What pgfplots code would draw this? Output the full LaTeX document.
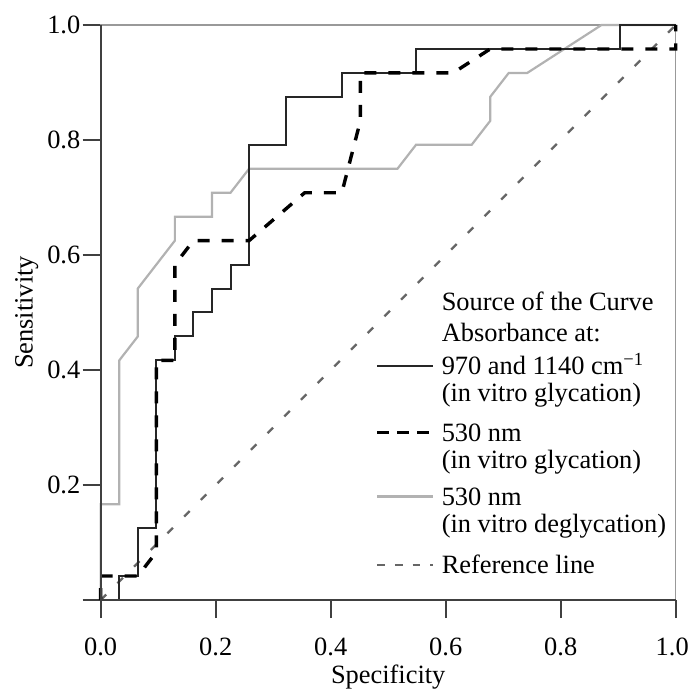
\documentclass[border=0pt]{standalone}
\usepackage{pgfplots}
\pgfplotsset{compat=1.18}
\usepackage{fontspec}
\setmainfont{Liberation Serif}
\pgfplotsset{legend image code/.code={\draw[#1] (0pt,4.45pt) -- (28pt,4.45pt);}}
\begin{document}
\fontsize{13.2}{13.5}\selectfont
\begin{tikzpicture}
\begin{axis}[
  scale only axis, width=287.5pt, height=287.5pt,
  xmin=0, xmax=1, ymin=0, ymax=1,
  clip=false,
  axis line style={black!40, line width=0.7pt},
  tick align=outside, major tick length=9pt,
  xtick pos=left, ytick pos=left,
  major tick style={black!75, line width=1pt},
  xtick={0,0.2,0.4,0.6,0.8,1},
  xticklabels={0.0,0.2,0.4,0.6,0.8,\hspace*{-3.5pt}1.0},
  ytick={0,0.2,0.4,0.6,0.8,1},
  yticklabels={,0.2,0.4,0.6,0.8,1.0},
  /pgf/number format/assume math mode=true,
  tick label style={font=\fontsize{13.2}{13.5}\selectfont},
  xticklabel style={anchor=base, yshift=-18.5pt},
  yticklabel style={anchor=east, inner xsep=0pt, xshift=-1pt},
  every axis x label/.style={at={(axis description cs:0.5,0)}, anchor=base, yshift=-41.5pt, font=\fontsize{13.2}{13.5}\selectfont},
  every axis y label/.style={at={(axis description cs:0,0.5)}, rotate=90, anchor=base, yshift=34pt, font=\fontsize{13.2}{13.5}\selectfont},
  xlabel={Specificity},
  ylabel={Sensitivity},
  legend style={at={(axis cs:0.477,0.537)}, anchor=north west, draw=none, fill=none,
    inner sep=0pt, row sep=0pt, column sep=3.5pt,
    font=\fontsize{13.2}{13.5}\selectfont,
    nodes={inner sep=0pt, text depth=},
    cells={anchor=base west}},
]
% reference line
\addplot[black!60, line width=1.2pt, dash pattern=on 3.9pt off 7.9pt, mark=none, forget plot]
  coordinates {(0,0) (1,1)};
% 530 nm in vitro deglycation
\addplot[black!30, line width=1.1pt, mark=none, forget plot] coordinates {
(0,0) (0,0.16667) (0.03226,0.16667) (0.03226,0.41667) (0.06452,0.45833)
(0.06452,0.54167) (0.12903,0.625) (0.12903,0.66667) (0.19355,0.66667)
(0.19355,0.70833) (0.22581,0.70833) (0.25806,0.75) (0.51613,0.75)
(0.54839,0.79167) (0.64516,0.79167) (0.67742,0.83333) (0.67742,0.875)
(0.70968,0.91667) (0.74194,0.91667) (0.87097,1) (1,1)};
% 970 and 1140 cm-1
\addplot[black!85, line width=1pt, mark=none, forget plot] coordinates {
(0,0) (0.03226,0) (0.03226,0.04167) (0.06452,0.04167) (0.06452,0.125)
(0.09677,0.125) (0.09677,0.41667) (0.12903,0.41667) (0.12903,0.45833)
(0.16129,0.45833) (0.16129,0.5) (0.19355,0.5) (0.19355,0.54167)
(0.22581,0.54167) (0.22581,0.58333) (0.25806,0.58333) (0.25806,0.79167)
(0.32258,0.79167) (0.32258,0.875) (0.41935,0.875) (0.41935,0.91667)
(0.54839,0.91667) (0.54839,0.95833) (0.90323,0.95833) (0.90323,1) (1,1)};
% 530 nm in vitro glycation
\addplot[black, line width=1.7pt, dash pattern=on 6pt off 6pt, mark=none, forget plot] coordinates {
(0,0) (0,0.04167) (0.06452,0.04167) (0.09677,0.08333) (0.09677,0.41667)
(0.12903,0.41667) (0.12903,0.58333) (0.16129,0.625) (0.25806,0.625)
(0.35484,0.70833) (0.41935,0.70833) (0.45161,0.83333) (0.45161,0.91667)
(0.6129,0.91667) (0.67742,0.95833) (1,0.95833) (1,1)};
\draw[black!75, line width=1pt] (rel axis cs:0,1) -- (rel axis cs:0,0) -- (rel axis cs:1,0);
% legend
\addlegendimage{empty legend}
\addlegendentry{\strut Source of the Curve\rule[-6.05pt]{0pt}{6.05pt}}
\addlegendimage{empty legend}
\addlegendentry{\strut Absorbance at:\rule[-6.05pt]{0pt}{6.05pt}}
\addlegendimage{black!85, line width=1pt}
\addlegendentry{\strut 970 and 1140 cm\textsuperscript{\char"2212 1}}
\addlegendimage{empty legend}
\addlegendentry{\strut (in vitro glycation)\rule[-10.55pt]{0pt}{10.55pt}}
\addlegendimage{black, line width=1.7pt, dash pattern=on 6pt off 4pt}
\addlegendentry{\strut 530 nm}
\addlegendimage{empty legend}
\addlegendentry{\strut (in vitro glycation)\rule[-9pt]{0pt}{9pt}}
\addlegendimage{black!30, line width=1.1pt}
\addlegendentry{\strut 530 nm}
\addlegendimage{empty legend}
\addlegendentry{\strut (in vitro deglycation)\rule[-11.3pt]{0pt}{11.3pt}}
\addlegendimage{black!60, line width=1.2pt, dash pattern=on 3.9pt off 5pt}
\addlegendentry{\strut Reference line}
\end{axis}
\pgfresetboundingbox
\path[use as bounding box] (-50.35pt,-45pt) rectangle (294.15pt,300pt);
\end{tikzpicture}
\end{document}
